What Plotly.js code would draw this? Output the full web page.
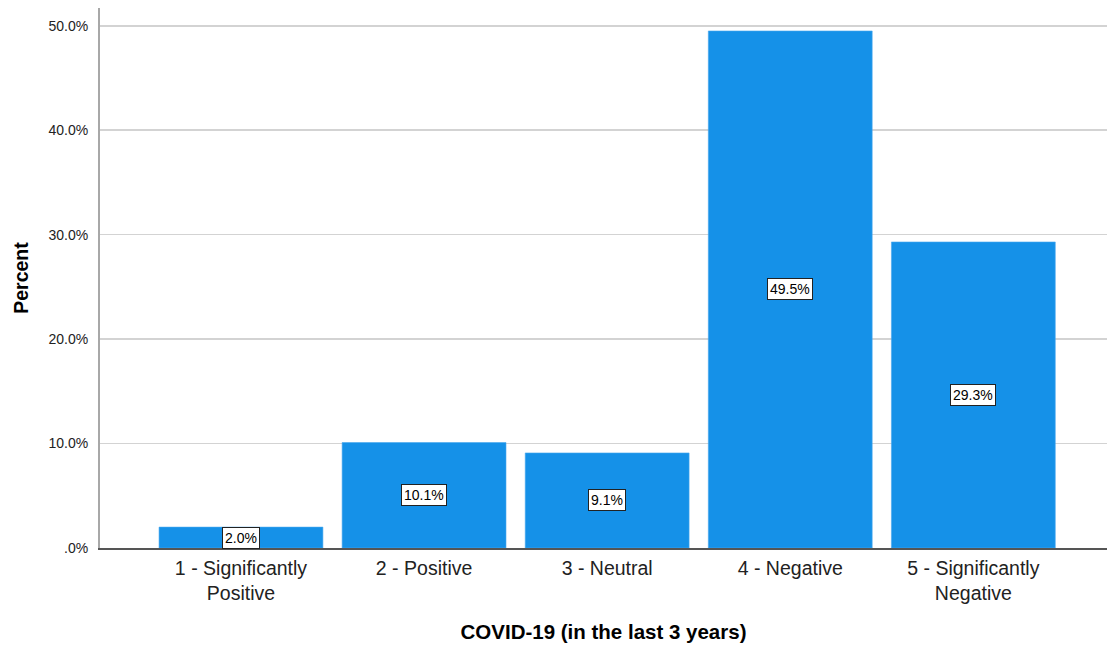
<!DOCTYPE html>
<html>
<head>
<meta charset="utf-8">
<script src="https://cdn.plot.ly/plotly-3.0.1.min.js"></script>
<style>
  html, body { margin: 0; padding: 0; background: #ffffff; }
  #chart { width: 1107px; height: 645px; }
</style>
</head>
<body>
<div id="chart"></div>
<script>
// Impact of COVID-19 over the last 3 years: share of respondents per rating
const categories = [
  "1 - Significantly<br>Positive",
  "2 - Positive",
  "3 - Neutral",
  "4 - Negative",
  "5 - Significantly<br>Negative"
];
const percents = [2.0, 10.1, 9.1, 49.5, 29.3];
const yTickValues = [0, 10, 20, 30, 40, 50];
const yTickLabels = [".0%", "10.0%", "20.0%", "30.0%", "40.0%", "50.0%"];

const barColor = "#1591e8";
const font = "Liberation Sans, Arial, sans-serif";

const trace = {
  type: "bar",
  x: categories,
  y: percents,
  width: 0.895,
  marker: { color: barColor, line: { color: "#4aa8ee", width: 0.6 } },
  hoverinfo: "skip"
};

// Value boxes sit at the middle of each bar
const labels = categories.map((c, i) => ({
  x: c,
  y: percents[i] / 2,
  xref: "x",
  yref: "y",
  text: percents[i].toFixed(1) + "%",
  showarrow: false,
  font: { family: font, size: 14, color: "#000000" },
  bgcolor: "#ffffff",
  bordercolor: "#222222",
  borderwidth: 1,
  borderpad: 2
}));

const layout = {
  width: 1107,
  height: 645,
  margin: { l: 100, r: 0, t: 8, b: 97 },
  paper_bgcolor: "#ffffff",
  plot_bgcolor: "#ffffff",
  showlegend: false,
  bargap: 0,
  font: { family: font, color: "#222222" },
  xaxis: {
    type: "category",
    range: [-0.77, 4.73],
    showgrid: false,
    zeroline: false,
    showline: true,
    linecolor: "#555555",
    linewidth: 1.5,
    ticks: "",
    tickfont: { family: font, size: 19.5, color: "#222222" },
    ticklabelstandoff: 2,
    title: {
      text: "COVID-19 (in the last 3 years)",
      font: { family: font, size: 20.5, color: "#000000", weight: "bold" },
      standoff: 21
    }
  },
  yaxis: {
    range: [0, 51.7],
    tickvals: yTickValues,
    ticktext: yTickLabels,
    showgrid: true,
    gridcolor: "#d3d3d3",
    gridwidth: 1.5,
    zeroline: false,
    showline: true,
    linecolor: "#a8a8a8",
    linewidth: 2,
    ticks: "",
    ticklabelstandoff: 7,
    tickfont: { family: font, size: 14, color: "#222222" },
    title: {
      text: "Percent",
      font: { family: font, size: 19.5, color: "#000000", weight: "bold" },
      standoff: 15
    }
  },
  annotations: labels
};

Plotly.newPlot("chart", [trace], layout, { displayModeBar: false, staticPlot: true });
</script>
</body>
</html>
